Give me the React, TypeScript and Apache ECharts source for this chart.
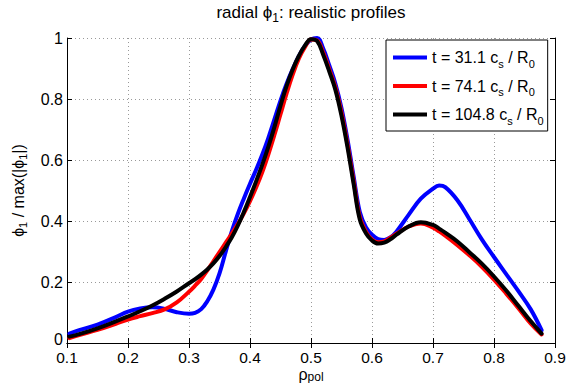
import React, { useEffect, useRef } from "react";
import * as echarts from "echarts";

const rho = [
  0.104, 0.12, 0.15, 0.18, 0.2, 0.22, 0.24, 0.26, 0.28, 0.3, 0.31, 0.32, 0.33, 0.34, 0.35,
  0.36, 0.37, 0.38, 0.39, 0.4, 0.41, 0.42, 0.43, 0.44, 0.45, 0.46, 0.47, 0.48, 0.49, 0.5,
  0.51, 0.52, 0.53, 0.54, 0.55, 0.56, 0.57, 0.58, 0.59, 0.6, 0.61, 0.62, 0.63, 0.64, 0.66,
  0.68, 0.7, 0.71, 0.72, 0.74, 0.76, 0.78, 0.8, 0.82, 0.84, 0.86, 0.878,
];

const phiT31 = [
  0.031, 0.042, 0.06, 0.085, 0.103, 0.113, 0.117, 0.112, 0.101, 0.096, 0.099, 0.111, 0.137, 0.175, 0.228,
  0.298, 0.365, 0.423, 0.474, 0.522, 0.568, 0.617, 0.672, 0.733, 0.795, 0.85, 0.898, 0.94, 0.974, 0.995,
  1.0, 0.965, 0.91, 0.85, 0.77, 0.665, 0.545, 0.43, 0.38, 0.355, 0.341, 0.338, 0.346, 0.365, 0.42,
  0.473, 0.506, 0.516, 0.511, 0.468, 0.405, 0.34, 0.282, 0.226, 0.17, 0.111, 0.042,
];

const phiT74 = [
  0.016, 0.026, 0.043, 0.063, 0.077, 0.088, 0.098, 0.11, 0.133, 0.168, 0.188, 0.21, 0.238, 0.268, 0.298,
  0.328, 0.358, 0.39, 0.425, 0.465, 0.51, 0.56, 0.618, 0.682, 0.75, 0.818, 0.88, 0.932, 0.97, 0.995,
  0.992, 0.952, 0.897, 0.838, 0.755, 0.65, 0.53, 0.413, 0.365, 0.339, 0.33, 0.333, 0.345, 0.358, 0.382,
  0.392, 0.378, 0.366, 0.352, 0.321, 0.287, 0.25, 0.208, 0.162, 0.114, 0.064, 0.028,
];

const phiT105 = [
  0.021, 0.029, 0.048, 0.071, 0.087, 0.104, 0.123, 0.145, 0.169, 0.196, 0.209, 0.224, 0.241, 0.261, 0.285,
  0.314, 0.346, 0.385, 0.43, 0.479, 0.53, 0.584, 0.643, 0.708, 0.778, 0.843, 0.897, 0.941, 0.975, 0.996,
  0.99, 0.945, 0.89, 0.83, 0.745, 0.64, 0.52, 0.405, 0.36, 0.336, 0.326, 0.329, 0.34, 0.355, 0.382,
  0.396, 0.387, 0.375, 0.362, 0.333, 0.297, 0.26, 0.218, 0.172, 0.122, 0.072, 0.031,
];

const seriesTimes = ["31.1", "74.1", "104.8"];
const seriesColors = ["#0000ff", "#ff0000", "#000000"];

const FONT = "'Liberation Sans', Arial, Helvetica, sans-serif";

export default function App() {
  const ref = useRef<HTMLDivElement>(null);

  useEffect(() => {
    const chart = echarts.init(ref.current!, null, { renderer: "svg" });
    const values = [phiT31, phiT74, phiT105];
    const names = seriesTimes.map((t) => `t = ${t} cs / R0`);
    const legendText: Record<string, string> = {};
    names.forEach((n, i) => {
      legendText[n] = `{n|t = ${seriesTimes[i]} c}{s|s}{n| / R}{s|0}`;
    });

    const subStyle = { fontSize: 11, lineHeight: 11, padding: [12, 0, 0, 0], fontFamily: FONT, color: "#000" };
    const mainStyle = { fontSize: 16, lineHeight: 16, fontFamily: FONT, color: "#000" };

    const gridLine = { show: true, lineStyle: { color: "#999", width: 1, type: [1, 3] as any } };
    const axisLineStyle = { show: true, lineStyle: { color: "#000", width: 1 } };

    chart.setOption({
      animation: false,
      backgroundColor: "#fff",
      title: {
        text: "radial ϕ{s|1}: realistic profiles",
        left: 311,
        top: 4,
        padding: 0,
        textAlign: "center",
        textStyle: {
          fontSize: 17,
          fontWeight: "normal",
          fontFamily: FONT,
          color: "#000",
          rich: {
            s: { fontSize: 12, lineHeight: 12, padding: [11, 0, 0, 0], fontFamily: FONT, color: "#000" },
          },
        },
      },
      legend: {
        orient: "vertical",
        left: 386,
        top: 40,
        padding: [6, 4, 5, 7],
        itemGap: 5.5,
        itemWidth: 34,
        itemHeight: 4,
        icon: "rect",
        borderColor: "#000",
        borderWidth: 1,
        backgroundColor: "#fff",
        data: names,
        formatter: (name: string) => legendText[name],
        textStyle: {
          fontFamily: FONT,
          fontSize: 16,
          color: "#000",
          rich: { n: mainStyle, s: subStyle },
        },
      },
      grid: {
        left: 67,
        top: 38,
        right: 11,
        bottom: 40,
        containLabel: false,
        outerBoundsMode: "none",
      },
      xAxis: [
        {
          type: "value",
          min: 0.1,
          max: 0.9,
          interval: 0.1,
          name: "ρ{s|pol}",
          nameLocation: "middle",
          nameGap: 24,
          nameMoveOverlap: false,
          nameTextStyle: {
            fontFamily: FONT,
            fontSize: 16,
            lineHeight: 14,
            color: "#000",
            rich: { s: { fontSize: 12, lineHeight: 8, padding: [6, 0, 0, 0], fontFamily: FONT, color: "#000" } },
          },
          axisLine: axisLineStyle,
          axisTick: { show: true, inside: true, length: 5, lineStyle: { color: "#000" } },
          axisLabel: {
            show: true,
            margin: 7,
            lineHeight: 14,
            fontFamily: FONT,
            fontSize: 15.5,
            color: "#000",
            showMinLabel: true,
            showMaxLabel: true,
            formatter: (v: number) => String(Math.round(v * 10) / 10),
          },
          splitLine: gridLine,
        },
        {
          type: "value",
          position: "top",
          min: 0.1,
          max: 0.9,
          interval: 0.1,
          axisLine: axisLineStyle,
          axisTick: { show: true, inside: true, length: 5, lineStyle: { color: "#000" } },
          axisLabel: { show: false },
          splitLine: { show: false },
        },
      ],
      yAxis: [
        {
          type: "value",
          min: 0,
          max: 1,
          interval: 0.2,
          name: "ϕ{s|1} / max(|ϕ{s|1}|)",
          nameLocation: "middle",
          nameRotate: 90,
          nameGap: 41,
          nameMoveOverlap: false,
          nameTextStyle: {
            fontFamily: FONT,
            fontSize: 16,
            color: "#000",
            rich: { s: { fontSize: 11, lineHeight: 11, padding: [10, 0, 0, 0], fontFamily: FONT, color: "#000" } },
          },
          axisLine: axisLineStyle,
          axisTick: { show: true, inside: true, length: 5, lineStyle: { color: "#000" } },
          axisLabel: {
            show: true,
            margin: 4,
            lineHeight: 14,
            fontFamily: FONT,
            fontSize: 16,
            color: "#000",
            showMinLabel: true,
            showMaxLabel: true,
            formatter: (v: number) => {
              const s = String(Math.round(v * 10) / 10);
              return v === 0 ? `{z|${s}}` : s;
            },
            rich: {
              z: { fontSize: 16, lineHeight: 14, padding: [0, 0, 8, 0], fontFamily: FONT, color: "#000" },
            },
          },
          splitLine: gridLine,
        },
        {
          type: "value",
          position: "right",
          min: 0,
          max: 1,
          interval: 0.2,
          axisLine: axisLineStyle,
          axisTick: { show: true, inside: true, length: 5, lineStyle: { color: "#000" } },
          axisLabel: { show: false },
          splitLine: { show: false },
        },
      ],
      series: values.map((vals, i) => ({
        type: "line",
        name: names[i],
        xAxisIndex: 0,
        yAxisIndex: 0,
        data: rho.map((x, k) => [x, vals[k]]),
        showSymbol: false,
        symbol: "none",
        smooth: 0.4,
        color: seriesColors[i],
        lineStyle: { color: seriesColors[i], width: 4, join: "round", cap: "round" },
        itemStyle: { color: seriesColors[i] },
        z: 2 + i,
      })),
    });

    return () => chart.dispose();
  }, []);

  return (
    <div
      ref={ref}
      style={{ position: "fixed", left: 0, top: 0, width: 566, height: 383, background: "#fff" }}
    />
  );
}
